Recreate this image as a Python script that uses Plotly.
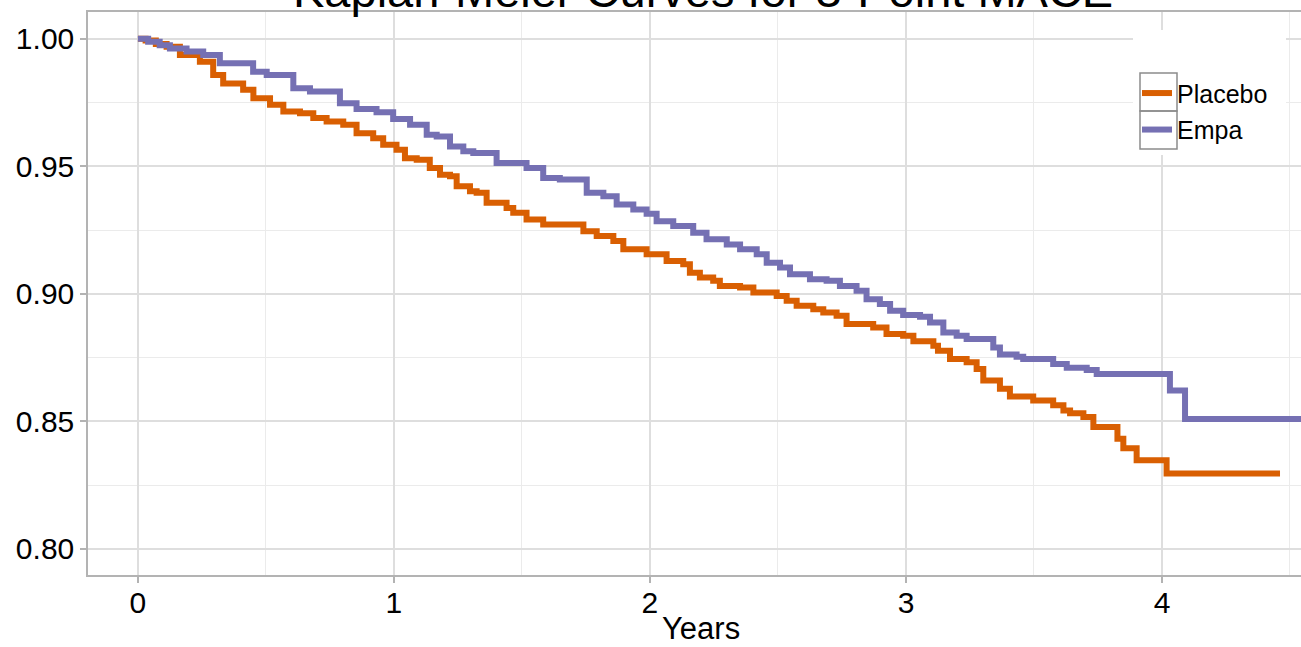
import plotly.graph_objects as go

# ---- data ----
placebo_t = [0, 0.03, 0.07, 0.112, 0.164, 0.242, 0.294, 0.333, 0.411, 0.451, 0.516, 0.568, 0.633, 0.685,
             0.737, 0.802, 0.854, 0.919, 0.958, 1.01, 1.043, 1.089, 1.14, 1.18, 1.219, 1.245,
             1.297, 1.323, 1.362, 1.44, 1.466, 1.518, 1.583, 1.74, 1.792, 1.857, 1.896, 1.987,
             2.065, 2.13, 2.156, 2.195, 2.247, 2.273, 2.352, 2.404, 2.495, 2.534, 2.573, 2.638,
             2.677, 2.729, 2.768, 2.872, 2.924, 2.989, 3.029, 3.107, 3.125, 3.172, 3.237, 3.276,
             3.302, 3.367, 3.406, 3.497, 3.575, 3.615, 3.641, 3.693, 3.732, 3.826, 3.849, 3.901,
             4.018, 4.461]
placebo_s = [1.0, 0.9993, 0.998, 0.9969, 0.9936, 0.991, 0.9858, 0.9825, 0.980, 0.9767, 0.9741, 0.9715, 0.9708, 0.9689,
             0.9676, 0.9663, 0.963, 0.961, 0.9585, 0.9565, 0.9532, 0.9526, 0.9493, 0.9467, 0.9461, 0.9422,
             0.9402, 0.9396, 0.9357, 0.9337, 0.9318, 0.9292, 0.9272, 0.9246, 0.9227, 0.9207, 0.9175, 0.9155,
             0.9129, 0.9116, 0.9083, 0.9064, 0.9051, 0.9031, 0.9025, 0.9005, 0.8992, 0.8973, 0.8953, 0.894,
             0.8927, 0.8914, 0.8882, 0.8868, 0.8843, 0.8836, 0.8814, 0.8797, 0.8777, 0.8745, 0.8732, 0.8706,
             0.866, 0.8628, 0.8598, 0.8582, 0.8563, 0.8543, 0.8532, 0.8517, 0.8478, 0.8432, 0.8395, 0.8348,
             0.8296, 0.8296]

empa_t = [0, 0.04, 0.085, 0.125, 0.19, 0.255, 0.32, 0.45, 0.503, 0.607, 0.672, 0.789, 0.854, 0.932, 0.997, 1.063,
          1.128, 1.167, 1.219, 1.271, 1.31, 1.401, 1.518, 1.583, 1.648, 1.753, 1.818, 1.87, 1.935,
          1.987, 2.026, 2.091, 2.169, 2.221, 2.3, 2.352, 2.417, 2.456, 2.508, 2.547, 2.625, 2.69,
          2.742, 2.807, 2.846, 2.898, 2.938, 2.989, 3.055, 3.094, 3.146, 3.198, 3.237, 3.341, 3.367,
          3.432, 3.458, 3.575, 3.628, 3.706, 3.745, 4.031, 4.09, 4.6]
empa_s = [1.0, 0.9988, 0.9975, 0.9962, 0.995, 0.9936, 0.9904, 0.9871, 0.9858, 0.9806, 0.9793, 0.9747, 0.9725, 0.9712, 0.9686, 0.9663,
          0.9624, 0.9617, 0.9578, 0.9559, 0.9552, 0.9513, 0.9493, 0.9454, 0.9448, 0.9396, 0.9383, 0.935, 0.9331,
          0.9314, 0.9285, 0.9266, 0.924, 0.9214, 0.9194, 0.9175, 0.9155, 0.9122, 0.9103, 0.9077, 0.9057, 0.9051,
          0.9031, 0.9012, 0.8979, 0.896, 0.8934, 0.8917, 0.891, 0.8888, 0.8849, 0.8836, 0.8823, 0.879, 0.8762,
          0.8754, 0.8745, 0.8725, 0.871, 0.8702, 0.8686, 0.8621, 0.851, 0.851]

x_ticks = [0, 1, 2, 3, 4]
y_ticks = [0.80, 0.85, 0.90, 0.95, 1.00]
y_tick_text = ["0.80", "0.85", "0.90", "0.95", "1.00"]

ORANGE = "#D95F02"
PURPLE = "#7570B3"
FONT = "Liberation Sans, Arial, sans-serif"

# figure geometry (pixels) used for legend decoration
W, H = 1301, 647
ML, MR, MT, MB = 88, 0, 12, 72
PW, PH = W - ML - MR, H - MT - MB


def px(x):
    return (x - ML) / PW


def py(y):
    return (H - MB - y) / PH


fig = go.Figure()
fig.add_trace(go.Scatter(x=placebo_t, y=placebo_s, mode="lines", name="Placebo",
                         line=dict(color=ORANGE, width=6, shape="hv"), legendgroup="p"))
fig.add_trace(go.Scatter(x=empa_t, y=empa_s, mode="lines", name="Empa",
                         line=dict(color=PURPLE, width=6, shape="hv"), legendgroup="e"))

grid_major = "#DEDEDE"
grid_minor = "#EBEBEB"
border = "#B3B3B3"

fig.add_annotation(text="Kaplan-Meier Curves for 3-Point MACE", xref="paper", yref="paper",
                   x=0.507, y=1, xanchor="center", yanchor="middle", yshift=22, showarrow=False,
                   font=dict(size=47, color="black", family=FONT))
fig.add_annotation(text="Years", xref="paper", yref="paper",
                   x=0.505, y=0, xanchor="center", yanchor="middle", yshift=-53, showarrow=False,
                   font=dict(size=31, color="black", family=FONT))

# legend background and key boxes
shapes = [dict(type="rect", xref="paper", yref="paper", x0=px(1133), x1=px(1286), y0=py(155), y1=py(30),
               fillcolor="white", line=dict(width=0), layer="above")]
for top in (73, 111):
    shapes.append(dict(type="rect", xref="paper", yref="paper", x0=px(1140), x1=px(1177),
                       y0=py(top + 38), y1=py(top), fillcolor="rgba(0,0,0,0)",
                       line=dict(color="#8C8C8C", width=1.5), layer="above"))

fig.update_layout(
    width=W, height=H,
    margin=dict(l=ML, r=MR, t=MT, b=MB, autoexpand=False),
    paper_bgcolor="white", plot_bgcolor="white",
    font=dict(family=FONT, color="black"),
    showlegend=True,
    shapes=shapes,
    legend=dict(x=px(1137), y=py(30), xanchor="left", yanchor="top", bgcolor="rgba(0,0,0,0)",
                font=dict(size=25, color="black"), tracegroupgap=1,
                title=dict(text=" ", font=dict(size=31))),
    xaxis=dict(range=[-0.195, 4.543], tickvals=x_ticks, ticks="outside", ticklen=6, tickwidth=1.5,
               tickcolor=border, tickfont=dict(size=30, color="black"), automargin=False,
               ticklabelstandoff=-6,
               showgrid=True, gridcolor=grid_major, gridwidth=1.5,
               minor=dict(dtick=0.5, tick0=0, showgrid=True, gridcolor=grid_minor, gridwidth=1, ticks=""),
               showline=True, linecolor=border, linewidth=1.5, mirror=True, zeroline=False),
    yaxis=dict(range=[0.7898, 1.0105], tickvals=y_ticks, ticktext=y_tick_text, ticks="outside",
               ticklen=6, tickwidth=1.5, tickcolor=border, tickfont=dict(size=30, color="black"),
               automargin=False, showgrid=True, gridcolor=grid_major, gridwidth=1.5,
               minor=dict(dtick=0.025, tick0=0.8, showgrid=True, gridcolor=grid_minor, gridwidth=1, ticks=""),
               showline=True, linecolor=border, linewidth=1.5, mirror=False, zeroline=False),
)

fig.write_html("out.html")
